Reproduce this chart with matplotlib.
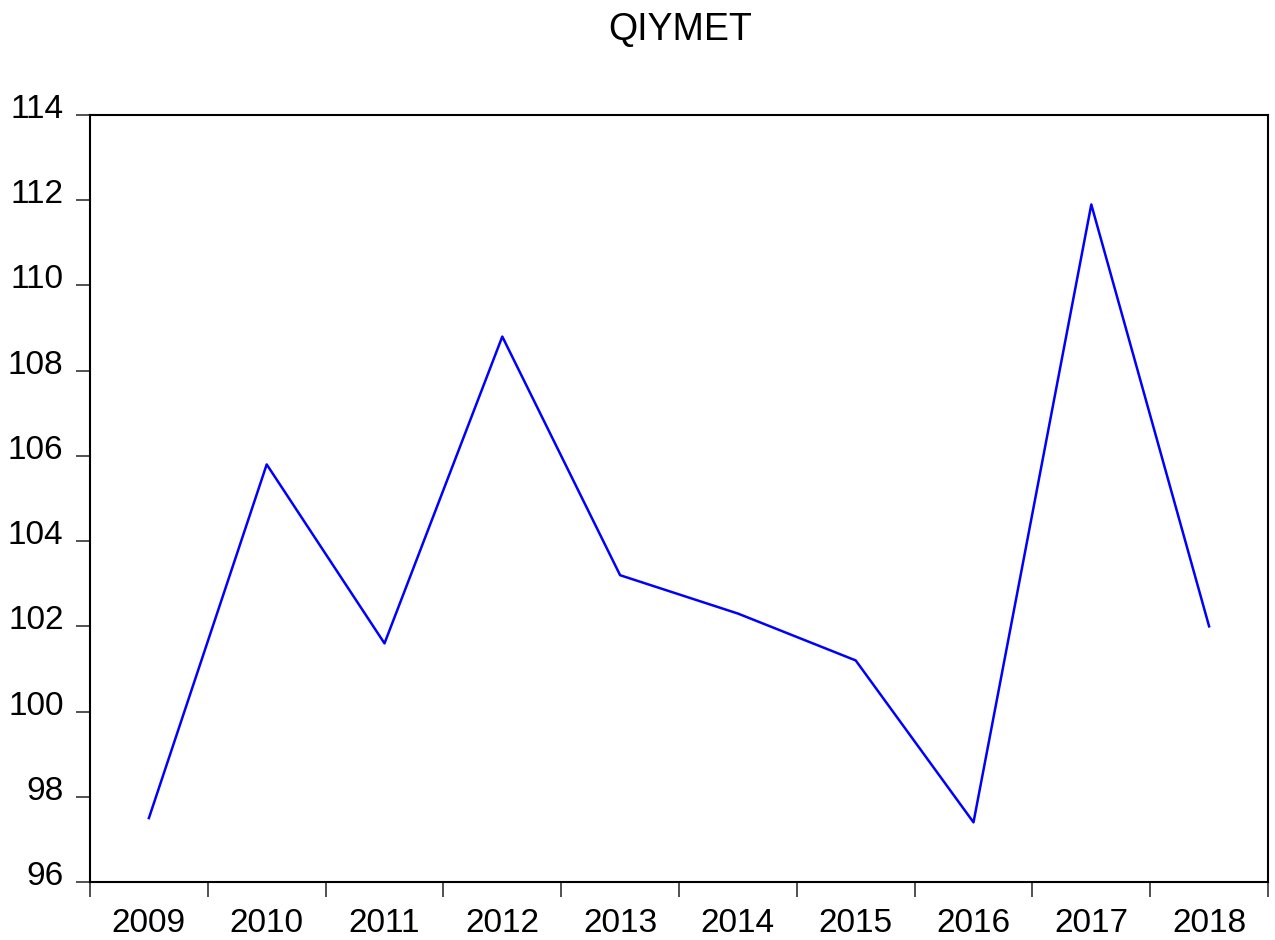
import matplotlib
matplotlib.use("Agg")
import matplotlib.pyplot as plt
from matplotlib.transforms import ScaledTranslation

plt.rcParams['font.family'] = ['Liberation Sans', 'DejaVu Sans']

years = ["2009", "2010", "2011", "2012", "2013", "2014", "2015", "2016", "2017", "2018"]
values = [97.5, 105.8, 101.6, 108.8, 103.2, 102.3, 101.2, 97.4, 111.9, 102.0]
y_ticks = [96, 98, 100, 102, 104, 106, 108, 110, 112, 114]

fig = plt.figure(figsize=(12.75, 9.4), dpi=100)
ax = fig.add_axes([90/1275, 1-882/940, (1268-90)/1275, (882-115)/940])

xs = [i + 0.5 for i in range(len(years))]
ax.plot(xs, values, color='#0000FF', linewidth=1.8)

ax.set_xlim(0, len(years))
ax.set_ylim(96, 114)
ax.set_xticks(range(len(years) + 1))
ax.set_xticklabels([])
ax.set_xticks(xs, minor=True)
ax.set_xticklabels(years, minor=True)
ax.tick_params(axis='x', which='minor', length=0, labelsize=24, pad=19)
ax.tick_params(axis='x', which='major', direction='out', length=11, width=1.2, color='#333333')
ax.set_yticks(y_ticks)
ax.set_yticklabels([str(v) for v in y_ticks])
ax.tick_params(axis='y', direction='out', length=10, width=1.2, color='#333333', labelsize=24, pad=9)
for lab in ax.get_yticklabels():
    lab.set_transform(lab.get_transform() + ScaledTranslation(0, 9/100, fig.dpi_scale_trans))
for s in ax.spines.values():
    s.set_linewidth(1.5)
    s.set_color('black')

fig.text(680/1275, 1-30/940, "QIYMET", ha='center', va='center', fontsize=27)

fig.savefig("out.png", dpi=100)
